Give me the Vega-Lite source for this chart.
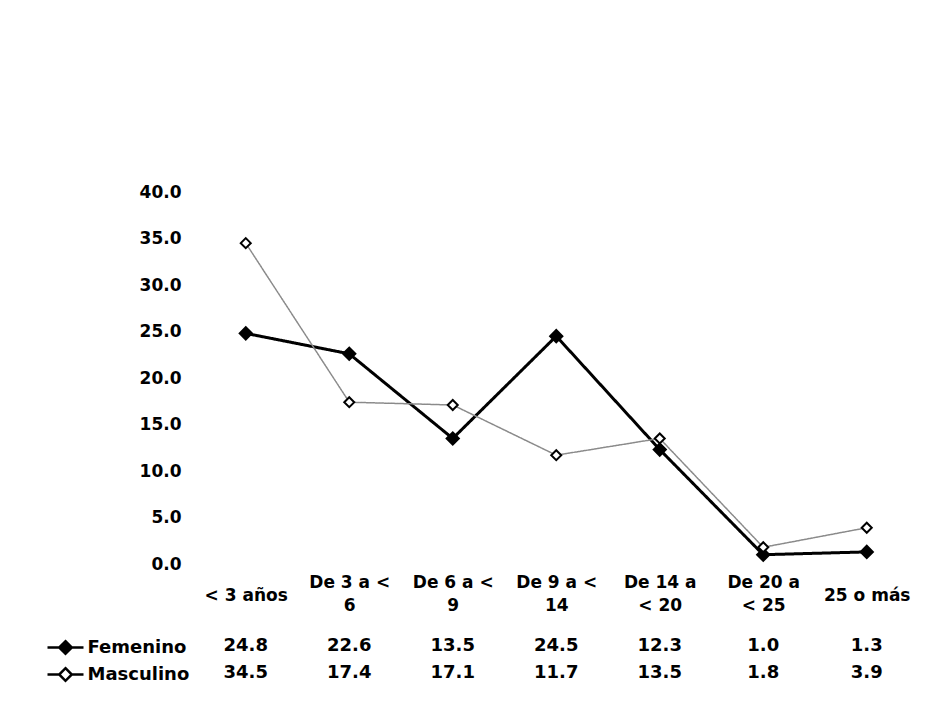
{
  "$schema": "https://vega.github.io/schema/vega-lite/v6.json",
  "background": "white",
  "padding": {"left": 55, "top": 183, "right": 0, "bottom": 0},
  "config": {
    "view": {"stroke": null},
    "font": "DejaVu Sans",
    "axis": {"labelFont": "DejaVu Sans", "labelFontWeight": "bold", "labelColor": "#000", "labelFontSize": 17, "domain": false, "ticks": false, "grid": false, "title": null},
    "legend": {"labelFont": "DejaVu Sans", "labelFontWeight": "bold", "labelColor": "#000", "labelFontSize": 18}
  },
  "resolve": {"scale": {"fill": "independent", "size": "independent", "strokeWidth": "independent"}, "legend": {"fill": "independent"}},
  "datasets": {
    "d": [
      {"cat": "< 3 años", "series": "Femenino", "value": 24.8},
      {"cat": "De 3 a < 6", "series": "Femenino", "value": 22.6},
      {"cat": "De 6 a < 9", "series": "Femenino", "value": 13.5},
      {"cat": "De 9 a < 14", "series": "Femenino", "value": 24.5},
      {"cat": "De 14 a < 20", "series": "Femenino", "value": 12.3},
      {"cat": "De 20 a < 25", "series": "Femenino", "value": 1.0},
      {"cat": "25 o más", "series": "Femenino", "value": 1.3},
      {"cat": "< 3 años", "series": "Masculino", "value": 34.5},
      {"cat": "De 3 a < 6", "series": "Masculino", "value": 17.4},
      {"cat": "De 6 a < 9", "series": "Masculino", "value": 17.1},
      {"cat": "De 9 a < 14", "series": "Masculino", "value": 11.7},
      {"cat": "De 14 a < 20", "series": "Masculino", "value": 13.5},
      {"cat": "De 20 a < 25", "series": "Masculino", "value": 1.8},
      {"cat": "25 o más", "series": "Masculino", "value": 3.9}
    ]
  },
  "vconcat": [
    {
      "width": 724.5,
      "height": 372,
      "data": {"name": "d"},
      "resolve": {"axis": {"x": "independent"}},
      "layer": [
        {
          "mark": {"type": "line", "strokeCap": "round"},
          "encoding": {
            "x": {"field": "cat", "type": "nominal", "sort": null,
              "scale": {"type": "point", "padding": 0.5, "domain": ["< 3 años", "De 3 a < 6", "De 6 a < 9", "De 9 a < 14", "De 14 a < 20", "De 20 a < 25", "25 o más"]},
              "axis": {"orient": "bottom", "labelAngle": 0, "labelBaseline": "middle", "labelPadding": 18, "labelLineHeight": 23,
                "labelExpr": "datum.label == 'De 3 a < 6' ? ['De 3 a <', '6'] : datum.label == 'De 6 a < 9' ? ['De 6 a <', '9'] : datum.label == 'De 9 a < 14' ? ['De 9 a <', '14'] : datum.label == 'De 14 a < 20' ? ['De 14 a', '< 20'] : datum.label == 'De 20 a < 25' ? ['De 20 a', '< 25'] : ''"}},
            "y": {"field": "value", "type": "quantitative",
              "scale": {"domain": [0, 40], "nice": false},
              "axis": {"values": [0, 5, 10, 15, 20, 25, 30, 35, 40], "format": ".1f", "labelPadding": 13}},
            "stroke": {"field": "series", "type": "nominal", "scale": {"domain": ["Femenino", "Masculino"], "range": ["#000000", "#8a8a8a"]}, "legend": null},
            "strokeWidth": {"field": "series", "type": "nominal", "scale": {"domain": ["Femenino", "Masculino"], "range": [3, 1.5]}, "legend": null},
            "strokeDash": {"field": "series", "type": "nominal", "scale": {"domain": ["Femenino", "Masculino"], "range": [[1, 0], [2, 1]]}, "legend": null}
          }
        },
        {
          "mark": {"type": "point", "shape": "diamond", "filled": true, "stroke": "#000", "opacity": 1},
          "encoding": {
            "x": {"field": "cat", "type": "nominal", "sort": null,
              "scale": {"type": "point", "padding": 0.5, "domain": ["< 3 años", "De 3 a < 6", "De 6 a < 9", "De 9 a < 14", "De 14 a < 20", "De 20 a < 25", "25 o más"]},
              "axis": {"orient": "bottom", "labelAngle": 0, "labelBaseline": "middle", "labelPadding": 31,
                "labelExpr": "datum.label == '< 3 años' || datum.label == '25 o más' ? datum.label : ''"}},
            "y": {"field": "value", "type": "quantitative"},
            "fill": {"field": "series", "type": "nominal", "scale": {"domain": ["Femenino", "Masculino"], "range": ["#000000", "#ffffff"]}, "legend": null},
            "size": {"field": "series", "type": "nominal", "scale": {"domain": ["Femenino", "Masculino"], "range": [150, 100]}, "legend": null}
          }
        }
      ]
    },
    {
      "width": 724.5,
      "height": 45,
      "data": {"name": "d"},
      "encoding": {
        "x": {"field": "cat", "type": "nominal", "sort": null,
          "scale": {"type": "point", "padding": 0.5, "domain": ["< 3 años", "De 3 a < 6", "De 6 a < 9", "De 9 a < 14", "De 14 a < 20", "De 20 a < 25", "25 o más"]},
          "axis": null},
        "y": {"field": "series", "type": "nominal", "scale": {"type": "point", "padding": 0.3333, "domain": ["Femenino", "Masculino"]}, "axis": null}
      },
      "layer": [
        {
          "mark": {"type": "text", "font": "DejaVu Sans", "fontWeight": "bold", "fontSize": 18, "color": "#000", "baseline": "middle"},
          "encoding": {"text": {"field": "value", "type": "quantitative", "format": ".1f"}}
        },
        {
          "mark": {"type": "point", "shape": "diamond", "filled": true, "size": 0, "strokeWidth": 0},
          "encoding": {
            "fill": {"field": "series", "type": "nominal", "scale": {"domain": ["Femenino", "Masculino"], "range": ["#000000", "#ffffff"]},
              "legend": {"title": null, "orient": "left", "offset": 4, "direction": "vertical", "rowPadding": 4,
                "symbolType": "M-2,0L-0.7,0M0.7,0L2,0M0,-0.7L0.7,0L0,0.7L-0.7,0Z", "symbolSize": 324, "symbolStrokeColor": "#000", "symbolStrokeWidth": 2.5, "symbolOpacity": 1, "labelOffset": 11.5}}
          }
        }
      ]
    }
  ],
  "spacing": 23
}
